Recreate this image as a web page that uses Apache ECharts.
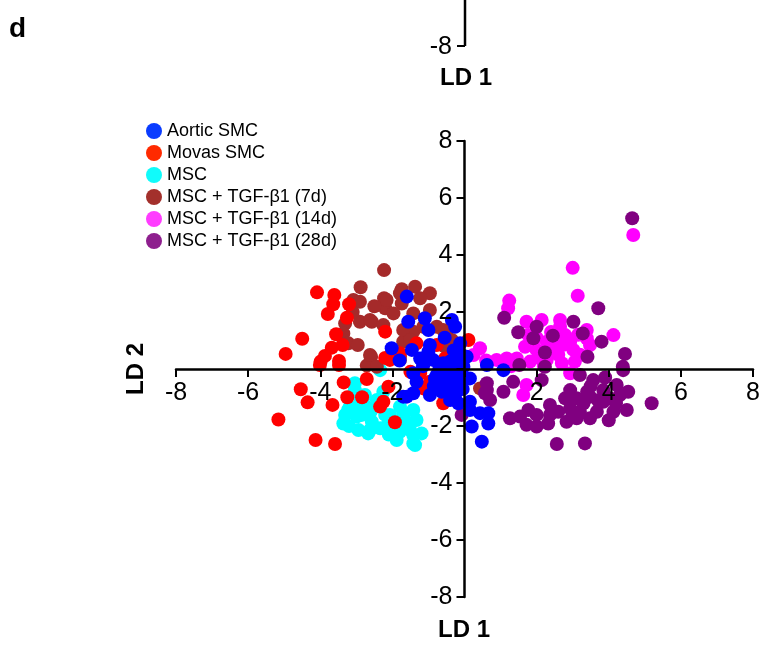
<!DOCTYPE html>
<html>
<head>
<meta charset="utf-8">
<script src="https://cdn.jsdelivr.net/npm/echarts@6/dist/echarts.min.js"></script>
<style>
html, body { margin: 0; padding: 0; background: #fff; }
#main { width: 764px; height: 653px; }
</style>
</head>
<body>
<div id="main"></div>
<script>
// groups, in legend order
var categories = ['Aortic SMC', 'Movas SMC', 'MSC', 'MSC + TGF-β1 (7d)', 'MSC + TGF-β1 (14d)', 'MSC + TGF-β1 (28d)'];
var colors = ['#0000ff', '#ff0000', '#00ffff', '#a52a2a', '#ff00ff', '#800080'];
var legendColors = ['#0a3cff', '#ff2a00', '#10fbfb', '#a3302c', '#ff3cff', '#8e1f8e'];
var tickValues = [-8, -6, -4, -2, 0, 2, 4, 6, 8];

// LD1, LD2 scores
var aorticSmc = [
  [-1.60,2.54],[-1.56,1.66],[-1.10,1.78],[-1.00,1.37],[-0.35,1.72],[-0.26,1.48],[-2.02,0.73],[-1.46,0.67],
  [-0.96,0.84],[-1.00,0.61],[-1.23,0.37],[-0.87,0.32],[-0.12,0.90],[-0.08,0.49],[-0.59,0.20],[-0.40,0.26],
  [-1.05,0.43],[-0.49,0.08],[-1.42,-0.15],[-1.33,-0.45],[-1.42,-0.85],[-0.96,-0.91],[-0.77,-0.21],[-0.40,-0.39],
  [-0.22,-0.62],[-0.40,-1.09],[-0.17,-1.20],[0.15,-1.44],[0.43,-1.55],[0.66,-1.55],[0.20,-2.02],[0.48,-2.55],
  [-1.60,-0.97],[0.06,0.43],[-0.03,0.08],[0.66,-1.91],[0.15,-0.33],[1.08,-0.04],[0.62,0.14],[-0.82,-0.33],
  [-0.63,-0.80],[-0.26,-0.91],[0.15,-1.15],[-0.30,-0.10],[-0.15,-0.30],[-0.60,-0.55],[-0.70,0.00],[-0.20,0.20],
  [-0.05,-0.70],[-0.45,-0.75],[-1.15,0.10],[-0.85,-0.60],[-0.30,0.65],[-1.70,-0.97],[-0.55,1.10],[-1.80,0.30],
  [-0.35,-0.25],[-0.10,-0.45],[-0.65,-0.15],[-0.25,0.00]
];
var movasSmc = [
  [-4.09,2.69],[-3.61,2.60],[-3.64,2.27],[-3.20,2.27],[-3.79,1.93],[-3.26,1.80],[-4.50,1.06],[-3.56,1.22],
  [-3.38,0.84],[-3.68,0.75],[-4.96,0.53],[-3.87,0.46],[-3.99,0.26],[-3.48,0.28],[-2.20,1.31],[-2.20,0.39],
  [-4.54,-0.71],[-4.35,-1.17],[-3.66,-1.26],[-5.16,-1.77],[-4.13,-2.49],[-3.59,-2.63],[-3.35,-0.47],[-3.25,-0.99],
  [-2.84,-0.99],[-2.71,-0.35],[-2.34,-1.32],[-2.11,-0.62],[-1.93,-1.87],[-2.25,-1.15],[-1.14,-0.68],[-0.96,-0.45],
  [-2.07,0.32],[-1.79,0.55],[-1.33,0.90],[-0.77,0.84],[-0.54,0.37],[0.11,1.02],[-0.59,-1.20],[-1.23,-0.15],
  [-0.91,-0.68],[-1.50,-0.10],[-4.01,0.14],[-3.48,0.14]
];
var msc = [
  [-2.34,-0.04],[-3.04,-0.50],[-3.18,-1.32],[-3.36,-1.91],[-2.99,-1.67],[-2.62,-2.14],[-2.16,-2.02],[-1.88,-2.49],
  [-1.42,-2.61],[-1.70,-1.55],[-1.33,-1.79],[-1.19,-2.26],[-1.51,-2.14],[-2.43,-1.09],[-2.81,-1.20],[-2.07,-1.61],
  [-1.79,-1.32],[-1.42,-1.44],[-1.65,-1.79],[-1.79,-2.20],[-1.42,-2.32],[-1.37,-2.67],[-2.25,-0.80],[-3.04,-0.74],
  [-2.76,-0.91],[-3.31,-1.61],[-3.08,-1.38],[-2.85,-1.61],[-2.57,-1.85],[-2.94,-2.14],[-2.67,-2.26],[-2.34,-2.08],
  [-2.20,-1.61],[-2.48,-1.32],[-3.23,-1.44],[-2.60,-1.50],[-2.90,-1.00],[-2.10,-2.30],[-1.90,-1.90],[-3.20,-2.00]
];
var tgf7d = [
  [-2.23,3.47],[-2.88,2.87],[-3.08,2.42],[-2.90,2.36],[-2.23,2.48],[-2.20,2.13],[-3.31,1.60],[-2.90,1.66],
  [-2.57,1.66],[-2.25,1.54],[-3.36,1.25],[-3.22,0.90],[-2.96,0.84],[-2.59,0.43],[-2.71,0.12],[-2.62,1.72],
  [-1.74,2.80],[-1.37,2.89],[-0.96,2.66],[-1.74,2.30],[-1.23,2.48],[-0.96,2.07],[-1.70,0.96],[-1.42,1.31],
  [-1.14,1.48],[-0.77,1.48],[-0.49,1.13],[-0.54,0.78],[-1.79,0.43],[-2.62,0.49],[-2.43,0.08],[-2.16,2.42],
  [-1.79,2.66],[-1.97,1.95],[-1.42,1.95],[-1.70,1.37],[-1.51,1.02],[-0.59,1.37],[-0.35,1.02],[-1.79,0.32],
  [0.43,-0.68],[-3.10,2.00],[-2.50,2.20]
];
var tgf14d = [
  [4.68,4.70],[3.00,3.55],[3.14,2.57],[1.24,2.40],[1.21,2.13],[1.72,1.66],[2.14,1.72],[2.65,1.72],
  [2.65,1.48],[3.39,1.37],[4.13,1.19],[1.77,1.19],[2.28,0.96],[2.79,1.19],[2.93,0.96],[3.48,0.84],
  [1.68,0.78],[2.00,0.67],[2.46,0.73],[3.02,0.67],[3.39,1.08],[0.43,0.73],[0.89,0.32],[1.17,0.37],
  [1.45,0.37],[1.82,0.26],[2.28,0.32],[2.70,0.20],[3.06,0.26],[0.25,0.49],[1.63,-0.91],[1.72,-0.56],
  [2.93,-0.15],[2.40,1.30],[2.00,1.10],[2.60,0.50],[1.30,0.10],[0.60,0.30],[3.20,0.50],[2.20,0.10],
  [2.55,1.00],[3.15,1.20],[2.05,0.40],[2.75,0.85]
];
var tgf28d = [
  [4.65,5.29],[3.71,2.13],[1.10,1.80],[1.49,1.29],[2.00,1.48],[1.91,1.08],[2.45,1.17],[3.02,1.66],
  [3.28,1.25],[3.80,0.96],[2.23,0.58],[3.41,0.43],[4.45,0.53],[1.52,0.14],[2.23,0.08],[4.39,0.08],
  [0.62,-0.50],[0.57,-0.85],[1.08,-0.80],[1.35,-0.45],[2.14,-0.39],[3.20,-0.21],[3.57,-0.39],[4.22,-0.56],
  [4.40,-0.04],[2.79,-1.03],[3.11,-1.03],[3.48,-0.97],[3.85,-1.15],[4.31,-0.91],[4.54,-0.80],[5.19,-1.20],
  [4.50,-1.44],[4.13,-1.50],[3.67,-1.50],[3.20,-1.50],[2.93,-1.38],[2.37,-1.61],[2.00,-1.61],[1.77,-1.44],
  [1.26,-1.73],[1.54,-1.67],[1.72,-1.96],[2.00,-2.02],[2.32,-1.91],[2.83,-1.85],[3.11,-1.73],[3.48,-1.73],
  [2.56,-2.63],[3.34,-2.61],[4.03,-1.03],[3.85,-0.74],[2.93,-0.74],[2.37,-1.26],[-0.08,-1.61],[0.62,-0.74],
  [0.71,-1.09],[3.50,-0.60],[3.90,-0.30],[3.30,-1.20],[4.00,-1.80],[2.60,-1.50],
  [3.70,-1.10],[4.20,-1.20],[3.40,-0.80],[3.00,-1.60]
];

var groups = [aorticSmc, movasSmc, msc, tgf7d, tgf14d, tgf28d];
// painting order (last one on top)
var drawOrder = [2, 3, 1, 4, 5, 0];

var font = '"Liberation Sans", Arial, Helvetica, sans-serif';
var dom = document.getElementById('main');
var myChart = echarts.init(dom);

var gridBox = { left: 176, right: 11, top: 141, bottom: 56 };
var gridW = 764 - gridBox.left - gridBox.right;
var gridH = 653 - gridBox.top - gridBox.bottom;

function hideZero(v) {
    return v === 0 ? '' : String(v);
}

var series = drawOrder.map(function (i) {
    return {
        name: categories[i],
        type: 'scatter',
        data: groups[i],
        symbol: 'circle',
        symbolSize: 14,
        itemStyle: { color: colors[i], opacity: 1 },
        emphasis: { disabled: true },
        animation: false
    };
});

function makeAxis(offset) {
    return {
        type: 'value',
        min: tickValues[0],
        max: tickValues[tickValues.length - 1],
        interval: 2,
        z: 5,
        // axes cross in the middle of the grid (ranges are symmetric)
        offset: offset,
        axisLine: { show: true, onZero: false, lineStyle: { color: '#000', width: 2.5 } },
        axisTick: { show: true, length: 8, lineStyle: { color: '#000', width: 2 } },
        splitLine: { show: false },
        axisLabel: {
            formatter: hideZero,
            color: '#000',
            fontFamily: font,
            fontSize: 25,
            margin: 12,
            showMinLabel: true,
            showMaxLabel: true
        }
    };
}

var option = {
    backgroundColor: '#fff',
    animation: false,
    grid: { left: gridBox.left, right: gridBox.right, top: gridBox.top, bottom: gridBox.bottom, containLabel: false },
    xAxis: makeAxis(-gridH / 2),
    yAxis: makeAxis(-gridW / 2),
    legend: {
        orient: 'vertical',
        left: 141,
        top: 117,
        itemWidth: 16,
        itemHeight: 16,
        itemGap: 4,
        icon: 'circle',
        selectedMode: false,
        textStyle: { color: '#000', fontFamily: font, fontSize: 18 },
        data: categories.map(function (c, i) {
            return { name: c, itemStyle: { color: legendColors[i] } };
        })
    },
    graphic: [
        // panel letter and the bottom of the panel above
        { type: 'text', left: 9, top: 15, style: { text: 'd', fill: '#000', font: 'bold 28px ' + font } },
        { type: 'line', shape: { x1: 465, y1: 0, x2: 465, y2: 46 }, style: { stroke: '#000', lineWidth: 2.5 } },
        { type: 'line', shape: { x1: 457, y1: 46, x2: 465, y2: 46 }, style: { stroke: '#000', lineWidth: 2 } },
        { type: 'text', x: 452, y: 47, style: { text: '-8', fill: '#000', font: '25px ' + font, align: 'right', verticalAlign: 'middle' } },
        { type: 'text', x: 452, y: -11, style: { text: '-6', fill: '#000', font: '25px ' + font, align: 'right', verticalAlign: 'middle' } },
        { type: 'text', x: 466, y: 78, style: { text: 'LD 1', fill: '#000', font: 'bold 24px ' + font, align: 'center', verticalAlign: 'middle' } },
        // axis titles of this panel
        { type: 'text', x: 464, y: 630, style: { text: 'LD 1', fill: '#000', font: 'bold 24px ' + font, align: 'center', verticalAlign: 'middle' } },
        { type: 'text', x: 136, y: 369, rotation: Math.PI / 2, style: { text: 'LD 2', fill: '#000', font: 'bold 24px ' + font, align: 'center', verticalAlign: 'middle' } }
    ],
    series: series
};

myChart.setOption(option, true);
</script>
</body>
</html>
